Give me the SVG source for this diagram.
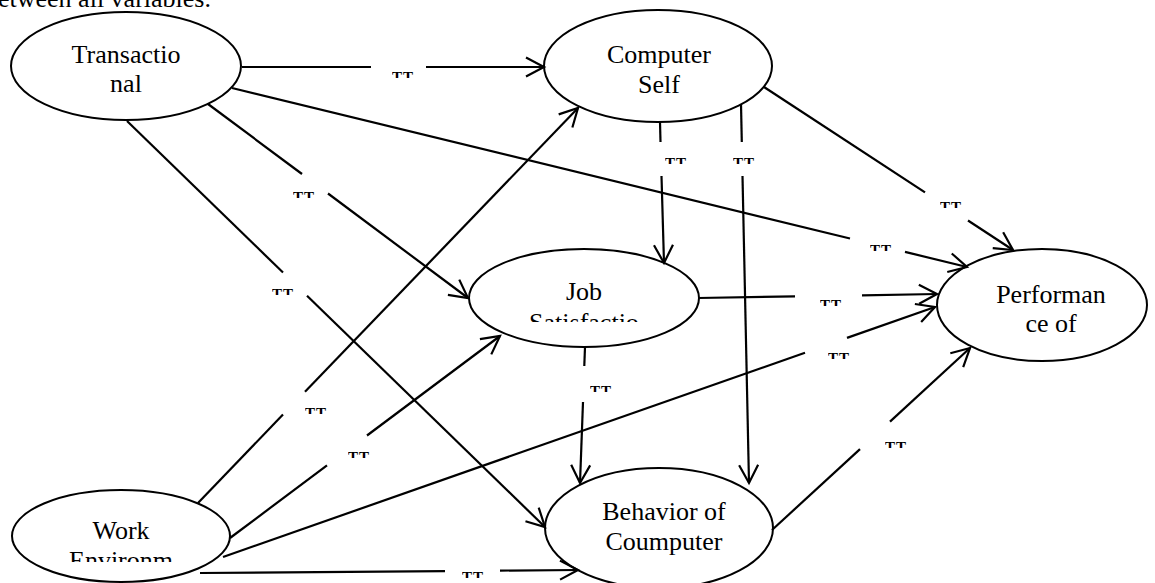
<svg xmlns="http://www.w3.org/2000/svg" width="1155" height="583" viewBox="0 0 1155 583">
  <style>
    .node ellipse { fill: #fff; stroke: #000; stroke-width: 2; }
    .node text, .head { font-family: "Liberation Serif", "Times New Roman", serif; font-size: 26px; fill: #000; text-anchor: middle; }
    .head { text-anchor: start; }
    #connectors line { stroke: #000; stroke-width: 2.2; fill: none; }
    #connectors line.arrow { marker-end: url(#arrow); }
    .lbl text { font-family: "Liberation Serif", "Times New Roman", serif; font-size: 15px; font-weight: bold; fill: #000; letter-spacing: 1px; }
  </style>
  <defs>
    <marker id="arrow" markerUnits="userSpaceOnUse" viewBox="-20 -12 24 24" markerWidth="24" markerHeight="24" refX="0" refY="0" orient="auto" overflow="visible">
      <path d="M-18,-9.5 L0,0 L-18,9.5" fill="none" stroke="#000" stroke-width="2.2" stroke-linejoin="miter"/>
    </marker>
    <clipPath id="clip-job"><rect x="440" y="240" width="290" height="82"/></clipPath>
    <clipPath id="clip-work"><rect x="0" y="480" width="240" height="82"/></clipPath>
  </defs>

  <rect width="1155" height="583" fill="#fff"/>

  <text class="head" x="-2" y="7">etween all variables.</text>

  <!-- nodes -->
  <g id="transactional" class="node">
    <ellipse cx="126" cy="66" rx="115" ry="54"/>
    <text x="126" y="63">Transactio</text>
    <text x="126" y="92">nal</text>
  </g>
  <g id="computer-self" class="node">
    <ellipse cx="658" cy="66" rx="114" ry="56"/>
    <text x="659" y="63">Computer</text>
    <text x="659" y="93">Self</text>
  </g>
  <g id="job-satisfaction" class="node">
    <ellipse cx="584" cy="298" rx="115" ry="49"/>
    <g clip-path="url(#clip-job)">
      <text x="584" y="300">Job</text>
      <text x="584" y="331">Satisfactio</text>
    </g>
  </g>
  <g id="performance" class="node">
    <ellipse cx="1042" cy="305" rx="105" ry="56"/>
    <text x="1051" y="303">Performan</text>
    <text x="1051" y="332">ce of</text>
  </g>
  <g id="work-environment" class="node">
    <ellipse cx="121" cy="536" rx="109" ry="46"/>
    <g clip-path="url(#clip-work)">
      <text x="121" y="539">Work</text>
      <text x="121" y="569">Environm</text>
    </g>
  </g>
  <g id="behavior" class="node">
    <ellipse cx="659" cy="528" rx="114" ry="60"/>
    <text x="664" y="520">Behavior of</text>
    <text x="664" y="550">Coumputer</text>
  </g>

  <!-- connectors: each path is split around its coefficient label -->
  <g id="connectors">
    <!-- Transactional -> Computer Self -->
    <line x1="242" y1="67" x2="371" y2="67"/>
    <line class="arrow" x1="426" y1="67" x2="544" y2="67"/>
    <!-- Transactional -> Performance -->
    <line x1="232" y1="88" x2="850" y2="238.5"/>
    <line class="arrow" x1="905" y1="251.9" x2="967" y2="267"/>
    <!-- Transactional -> Job Satisfaction -->
    <line x1="208" y1="104" x2="302" y2="174"/>
    <line class="arrow" x1="328" y1="193.5" x2="468" y2="298"/>
    <!-- Transactional -> Behavior -->
    <line x1="127" y1="121" x2="283" y2="272.5"/>
    <line class="arrow" x1="307" y1="295.8" x2="545" y2="527"/>
    <!-- Computer Self -> Job Satisfaction -->
    <line x1="660" y1="122" x2="660.5" y2="142"/>
    <line class="arrow" x1="661.5" y1="176" x2="664" y2="263"/>
    <!-- Computer Self -> Behavior -->
    <line x1="741" y1="104" x2="741.8" y2="142"/>
    <line class="arrow" x1="742.5" y1="176" x2="749" y2="483"/>
    <!-- Computer Self -> Performance -->
    <line x1="764" y1="87" x2="925" y2="192.4"/>
    <line class="arrow" x1="968" y1="220.5" x2="1013" y2="250"/>
    <!-- Job Satisfaction -> Performance -->
    <line x1="698" y1="298" x2="795" y2="296.4"/>
    <line class="arrow" x1="862" y1="295.3" x2="937" y2="294"/>
    <!-- Job Satisfaction -> Behavior -->
    <line x1="585" y1="347" x2="584.3" y2="366"/>
    <line class="arrow" x1="583" y1="402" x2="580" y2="483"/>
    <!-- Work Environment -> Computer Self -->
    <line x1="198" y1="503" x2="283" y2="414.6"/>
    <line class="arrow" x1="305" y1="391.8" x2="578" y2="108"/>
    <!-- Work Environment -> Job Satisfaction -->
    <line x1="230" y1="538" x2="327" y2="465.4"/>
    <line class="arrow" x1="367" y1="435.5" x2="500" y2="336"/>
    <!-- Work Environment -> Performance -->
    <line x1="223" y1="557" x2="805" y2="352.7"/>
    <line class="arrow" x1="847" y1="337.9" x2="935" y2="307"/>
    <!-- Work Environment -> Behavior -->
    <line x1="200" y1="573" x2="445" y2="571.1"/>
    <line class="arrow" x1="500" y1="570.6" x2="578" y2="570"/>
    <!-- Behavior -> Performance -->
    <line x1="772" y1="530" x2="860" y2="449.1"/>
    <line class="arrow" x1="890" y1="421.6" x2="970" y2="348"/>
  </g>

  <!-- coefficient labels (only the top strip of each is visible) -->
  <g id="labels" class="lbl">
    <svg x="392" y="72" width="22" height="6" overflow="hidden"><text x="0" y="10">TT</text></svg>
    <svg x="870" y="245" width="22" height="6" overflow="hidden"><text x="0" y="10">TT</text></svg>
    <svg x="293" y="192" width="22" height="6" overflow="hidden"><text x="0" y="10">TT</text></svg>
    <svg x="272" y="289" width="22" height="6" overflow="hidden"><text x="0" y="10">TT</text></svg>
    <svg x="665" y="158" width="22" height="6" overflow="hidden"><text x="0" y="10">TT</text></svg>
    <svg x="733" y="158" width="22" height="6" overflow="hidden"><text x="0" y="10">TT</text></svg>
    <svg x="940" y="202" width="22" height="6" overflow="hidden"><text x="0" y="10">TT</text></svg>
    <svg x="820" y="300" width="22" height="6" overflow="hidden"><text x="0" y="10">TT</text></svg>
    <svg x="590" y="386" width="22" height="6" overflow="hidden"><text x="0" y="10">TT</text></svg>
    <svg x="305" y="408" width="22" height="6" overflow="hidden"><text x="0" y="10">TT</text></svg>
    <svg x="348" y="452" width="22" height="6" overflow="hidden"><text x="0" y="10">TT</text></svg>
    <svg x="828" y="353" width="22" height="6" overflow="hidden"><text x="0" y="10">TT</text></svg>
    <svg x="885" y="442" width="22" height="6" overflow="hidden"><text x="0" y="10">TT</text></svg>
    <svg x="462" y="572" width="22" height="6" overflow="hidden"><text x="0" y="10">TT</text></svg>
  </g>
</svg>
